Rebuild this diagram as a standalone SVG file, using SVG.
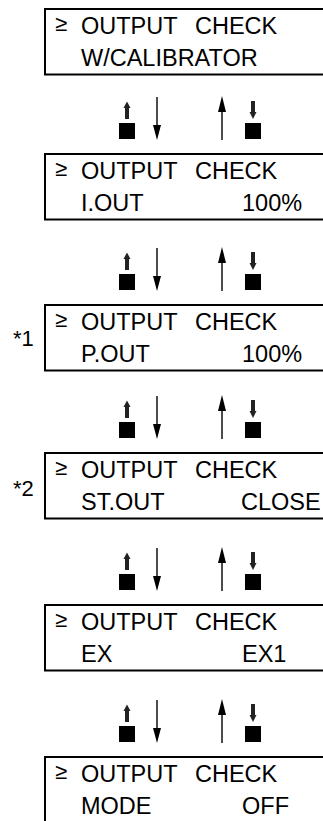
<svg xmlns="http://www.w3.org/2000/svg" xmlns:xlink="http://www.w3.org/1999/xlink" width="323" height="821" viewBox="0 0 323 821">
<style>
.box{fill:none;stroke:#000;stroke-width:2}
.t{font-family:"Liberation Sans",Arial,sans-serif;font-size:23.5px;fill:#000}
.ge{font-family:"Liberation Sans",Arial,sans-serif;font-size:22px;fill:#000}
.note{font-family:"Liberation Sans",Arial,sans-serif;font-size:22px;fill:#000}
.ln{stroke:#000;stroke-width:1.4;fill:none}
.sq{fill:#000}
.sm{fill:#222}
</style>
<defs>
<g id="arrows">
<polygon class="sm" points="127,5.5 130.5,12 123.5,12"/>
<rect class="sm" x="125" y="11.5" width="4" height="11.5"/>
<rect class="sq" x="119" y="27" width="16" height="16"/>
<line class="ln" x1="157" y1="1" x2="157" y2="32"/>
<polygon class="sq" points="153,29 161,29 157,44"/>
<line class="ln" x1="222" y1="14" x2="222" y2="44"/>
<polygon class="sq" points="218,16 226,16 222,0"/>
<rect class="sm" x="251" y="5" width="4" height="11.5"/>
<polygon class="sm" points="249.5,16 256.5,16 253,23"/>
<rect class="sq" x="245" y="27" width="16" height="16"/>
</g>
</defs>
<g id="connectors">
<use xlink:href="#arrows" transform="translate(0,96)"/>
<use xlink:href="#arrows" transform="translate(0,247)"/>
<use xlink:href="#arrows" transform="translate(0,395)"/>
<use xlink:href="#arrows" transform="translate(0,547)"/>
<use xlink:href="#arrows" transform="translate(0,699)"/>
</g>
<g id="node1">
<rect class="box" x="45" y="9" width="282" height="65.5"/>
<text class="ge" x="55" y="31">≥</text>
<text class="t" y="34"><tspan x="81">OUTPUT</tspan><tspan x="195">CHECK</tspan></text>
<text class="t" x="81" y="66">W/CALIBRATOR</text>
</g>
<g id="node2">
<rect class="box" x="45" y="154" width="282" height="65.5"/>
<text class="ge" x="55" y="176">≥</text>
<text class="t" y="179"><tspan x="81">OUTPUT</tspan><tspan x="195">CHECK</tspan></text>
<text class="t" x="81" y="211">I.OUT</text>
<text class="t" x="242" y="211">100%</text>
</g>
<g id="node3">
<text class="note" x="13" y="346">*1</text>
<rect class="box" x="45" y="305" width="282" height="65.5"/>
<text class="ge" x="55" y="327">≥</text>
<text class="t" y="330"><tspan x="81">OUTPUT</tspan><tspan x="195">CHECK</tspan></text>
<text class="t" x="81" y="362">P.OUT</text>
<text class="t" x="242" y="362">100%</text>
</g>
<g id="node4">
<text class="note" x="13" y="496">*2</text>
<rect class="box" x="45" y="453" width="282" height="65.5"/>
<text class="ge" x="55" y="475">≥</text>
<text class="t" y="478"><tspan x="81">OUTPUT</tspan><tspan x="195">CHECK</tspan></text>
<text class="t" x="81" y="510">ST.OUT</text>
<text class="t" x="241" y="510">CLOSE</text>
</g>
<g id="node5">
<rect class="box" x="45" y="605" width="282" height="65.5"/>
<text class="ge" x="55" y="627">≥</text>
<text class="t" y="630"><tspan x="81">OUTPUT</tspan><tspan x="195">CHECK</tspan></text>
<text class="t" x="81" y="662">EX</text>
<text class="t" x="242" y="662">EX1</text>
</g>
<g id="node6">
<rect class="box" x="45" y="757" width="282" height="65.5"/>
<text class="ge" x="55" y="779">≥</text>
<text class="t" y="782"><tspan x="81">OUTPUT</tspan><tspan x="195">CHECK</tspan></text>
<text class="t" x="81" y="814">MODE</text>
<text class="t" x="242" y="814">OFF</text>
</g>
</svg>
